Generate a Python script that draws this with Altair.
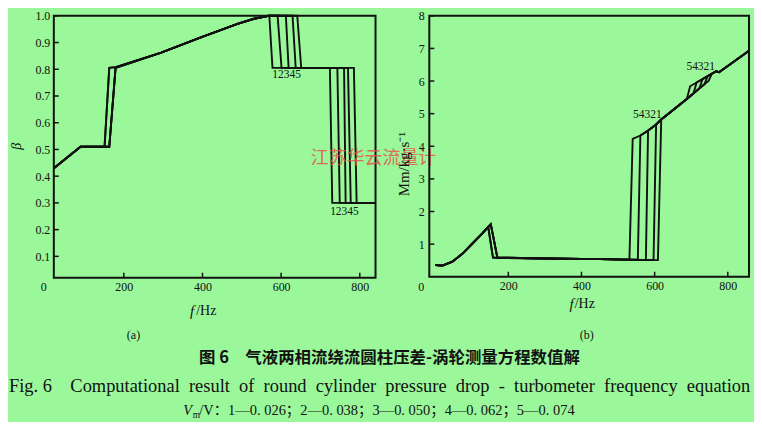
import altair as alt
import pandas as pd

# ---------------- colours / fonts ----------------
BG = "#9AF89A"
INK = "#111111"
SERIF = "Liberation Serif"
CJK = "Noto Sans CJK SC"

# ---------------- data ----------------
curve_ids = [1, 2, 3, 4, 5]

# panel (a): beta vs f (Hz), one list per curve
a_f = {
    1: [22, 90, 151, 163, 179, 295, 396, 489, 531, 570, 578, 724, 730, 840],
    2: [22, 90, 151, 163, 179, 295, 396, 489, 531, 568, 591, 601, 743, 749, 840],
    3: [22, 90, 163, 179, 295, 396, 489, 531, 568, 612, 619, 760, 764, 840],
    4: [22, 90, 163, 179, 295, 396, 489, 531, 568, 629, 637, 770, 777, 840],
    5: [22, 90, 163, 179, 295, 396, 489, 531, 568, 641, 651, 785, 792, 840],
}
a_beta = {
    1: [0.43, 0.51, 0.51, 0.805, 0.808, 0.862, 0.919, 0.97, 0.989, 1.0, 0.805, 0.805, 0.30, 0.30],
    2: [0.43, 0.51, 0.51, 0.805, 0.808, 0.862, 0.919, 0.97, 0.989, 1.0, 1.0, 0.805, 0.805, 0.30, 0.30],
    3: [0.43, 0.51, 0.51, 0.805, 0.862, 0.919, 0.97, 0.989, 1.0, 1.0, 0.805, 0.805, 0.30, 0.30],
    4: [0.43, 0.51, 0.51, 0.805, 0.862, 0.919, 0.97, 0.989, 1.0, 1.0, 0.805, 0.805, 0.30, 0.30],
    5: [0.43, 0.51, 0.51, 0.805, 0.862, 0.919, 0.97, 0.989, 1.0, 1.0, 0.805, 0.805, 0.30, 0.30],
}

# panel (b): M vs f (Hz), one list per curve
b_f = {
    1: [0, 20, 47, 75, 102, 129, 145, 152, 170, 300, 450, 609, 618, 688, 706, 722, 736, 748, 756, 768, 776, 858],
    2: [0, 20, 47, 75, 102, 129, 145, 152, 170, 300, 450, 597, 604, 618, 688, 706, 722, 736, 745, 768, 776, 858],
    3: [0, 20, 47, 75, 102, 129, 145, 152, 170, 300, 450, 576, 582, 604, 618, 688, 706, 722, 731, 768, 776, 858],
    4: [0, 20, 47, 75, 102, 129, 145, 158, 170, 300, 450, 554, 561, 582, 604, 618, 688, 706, 715, 768, 776, 858],
    5: [0, 20, 47, 75, 102, 129, 145, 158, 170, 300, 450, 531, 540, 561, 582, 604, 618, 688, 697, 768, 776, 858],
}
b_m = {
    1: [0.36, 0.34, 0.46, 0.71, 1.02, 1.33, 1.53, 1.61, 0.59, 0.56, 0.54, 0.51, 4.82, 5.45, 5.62, 5.77, 5.90, 6.01, 6.22, 6.30, 6.27, 6.93],
    2: [0.36, 0.34, 0.46, 0.71, 1.02, 1.33, 1.53, 1.61, 0.59, 0.56, 0.54, 0.51, 4.67, 4.82, 5.45, 5.62, 5.77, 5.90, 6.15, 6.30, 6.27, 6.93],
    3: [0.36, 0.34, 0.46, 0.71, 1.02, 1.33, 1.53, 1.61, 0.59, 0.56, 0.54, 0.51, 4.48, 4.67, 4.82, 5.45, 5.62, 5.77, 6.06, 6.30, 6.27, 6.93],
    4: [0.36, 0.34, 0.46, 0.71, 1.02, 1.33, 1.53, 0.59, 0.58, 0.56, 0.54, 0.52, 4.33, 4.48, 4.67, 4.82, 5.45, 5.62, 5.96, 6.30, 6.27, 6.93],
    5: [0.36, 0.34, 0.46, 0.71, 1.02, 1.33, 1.53, 0.59, 0.58, 0.56, 0.54, 0.52, 4.23, 4.33, 4.48, 4.67, 4.82, 5.45, 5.84, 6.30, 6.27, 6.93],
}

# curve-number annotations
a_label_f = [614, 761]
a_label_beta = [0.778, 0.266]
a_label_text = ["12345", "12345"]
b_label_f = [580, 726]
b_label_m = [4.95, 6.42]
b_label_text = ["54321", "54321"]

# ticks
x_ticks = [200, 400, 600, 800]
a_y_ticks = [0.1, 0.2, 0.3, 0.4, 0.5, 0.6, 0.7, 0.8, 0.9, 1.0]
b_y_ticks = [1, 2, 3, 4, 5, 6, 7, 8]

# texts
a_ytitle = ["β"]
b_ytitle = ["Mm/kg·s⁻¹"]
x_title_f = ["f"]
x_title_unit = ["/Hz"]
zero_label = ["0"]
panel_a_tag = ["(a)"]
panel_b_tag = ["(b)"]
watermark = ["江苏华云流量计"]
cap_cn = ["图 6　气液两相流绕流圆柱压差-涡轮测量方程数值解"]
NB = "\u00a0"
cap_en = ["Fig." + NB + "6" + NB * 4 + (NB * 2).join(
    "Computational result of round cylinder pressure drop - turbometer frequency equation".split(" "))]
cap_v = ["V"]
cap_m = ["m"]
cap_rest = ["/V：1—0. 026；2—0. 038；3—0. 050；4—0. 062；5—0. 074"]

# ---------------- layout sizes ----------------
W_A, H_A = 323, 263
W_B, H_B = 321, 262


def curves_df(fdict, vdict, key):
    rows = []
    for c in curve_ids:
        for i, (f, v) in enumerate(zip(fdict[c], vdict[c])):
            rows.append({"curve": c, "i": i, "f": f, key: v})
    return pd.DataFrame(rows)


def txt(strings, x, y, size=12, font=SERIF, align="center", style="normal",
        weight="normal", angle=0, color=INK, opacity=1.0, baseline="middle"):
    return alt.Chart(pd.DataFrame({"t": strings})).mark_text(
        font=font, fontSize=size, align=align, baseline=baseline,
        fontStyle=style, fontWeight=weight, angle=angle, color=color,
        opacity=opacity,
    ).encode(text="t:N", x=alt.value(x), y=alt.value(y))


axis_common = dict(domain=False, ticks=False, grid=False, labelFont=SERIF,
                   labelFontSize=12, labelColor=INK, title=None,
                   labelFlush=False)

# ---------------- panel (a) ----------------
xa = alt.X("f:Q", scale=alt.Scale(domain=[22, 840], nice=False, zero=False),
           axis=alt.Axis(values=x_ticks, labelPadding=4, **axis_common))
ya = alt.Y("beta:Q", scale=alt.Scale(domain=[0.02, 1.0], nice=False, zero=False),
           axis=alt.Axis(values=a_y_ticks, format=".1f", labelPadding=4, **axis_common))

da = curves_df(a_f, a_beta, "beta")
lines_a = alt.Chart(da).mark_line(color=INK, strokeWidth=1.9, clip=False).encode(
    x=xa, y=ya, detail="curve:N", order="i:Q")
xt_a = alt.Chart(pd.DataFrame({"f": x_ticks})).mark_rule(color=INK, strokeWidth=1.5).encode(
    x=xa, y=alt.value(H_A), y2=alt.value(H_A - 5))
yt_a = alt.Chart(pd.DataFrame({"beta": a_y_ticks})).mark_rule(color=INK, strokeWidth=1.5).encode(
    y=ya, x=alt.value(0), x2=alt.value(5))
lab_a = alt.Chart(pd.DataFrame({"f": a_label_f, "beta": a_label_beta, "t": a_label_text})).mark_text(
    font=SERIF, fontSize=11.5, color=INK).encode(x=xa, y=ya, text="t:N")

panel_a = alt.layer(
    lines_a, xt_a, yt_a, lab_a,
    txt(zero_label, -10, H_A + 9, size=12),
    txt(a_ytitle, -37, 131, size=14, style="italic", angle=270),
    txt(x_title_f, 141, 296, size=15, style="italic", align="right"),
    txt(x_title_unit, 143, 296, size=14, align="left"),
    txt(panel_a_tag, 80, 320, size=12),
    txt(watermark, 321, 144, size=18, font=CJK, color="#E5554C", opacity=0.85),
    txt(cap_cn, 337, 344, size=16.5, font=CJK, weight="bold"),
    txt(cap_en, -45, 372, size=18.5, align="left", font=SERIF + ", " + CJK),
    txt(cap_v, 130, 397, size=14.5, style="italic", align="left"),
    txt(cap_m, 139.5, 401, size=9.5, align="left"),
    txt(cap_rest, 146, 397, size=14.5, align="left", font=SERIF + ", " + CJK),
).properties(width=W_A, height=H_A, view=alt.ViewBackground(stroke=INK, strokeWidth=2))

# ---------------- panel (b) ----------------
xb = alt.X("f:Q", scale=alt.Scale(domain=[-16, 858], nice=False, zero=False),
           axis=alt.Axis(values=x_ticks, labelPadding=4, **axis_common))
yb = alt.Y("m:Q", scale=alt.Scale(domain=[0, 8], nice=False, zero=False),
           axis=alt.Axis(values=b_y_ticks, format="d", labelPadding=5, **axis_common))

db = curves_df(b_f, b_m, "m")
lines_b = alt.Chart(db).mark_line(color=INK, strokeWidth=1.9, clip=False).encode(
    x=xb, y=yb, detail="curve:N", order="i:Q")
xt_b = alt.Chart(pd.DataFrame({"f": x_ticks})).mark_rule(color=INK, strokeWidth=1.5).encode(
    x=xb, y=alt.value(H_B), y2=alt.value(H_B - 5))
yt_b = alt.Chart(pd.DataFrame({"m": b_y_ticks})).mark_rule(color=INK, strokeWidth=1.5).encode(
    y=yb, x=alt.value(0), x2=alt.value(5))
lab_b = alt.Chart(pd.DataFrame({"f": b_label_f, "m": b_label_m, "t": b_label_text})).mark_text(
    font=SERIF, fontSize=11.5, color=INK).encode(x=xb, y=yb, text="t:N")

panel_b = alt.layer(
    lines_b, xt_b, yt_b, lab_b,
    txt(zero_label, -8, H_B + 10, size=12),
    txt(b_ytitle, -25, 149, size=15, angle=270),
    txt(x_title_f, 145, 289, size=15, style="italic", align="right"),
    txt(x_title_unit, 146, 289, size=14, align="left"),
    txt(panel_b_tag, 158, 320, size=12),
).properties(width=W_B, height=H_B, view=alt.ViewBackground(stroke=INK, strokeWidth=2))

chart = alt.hconcat(panel_a, panel_b, spacing=54, bounds="flush").properties(
    padding={"left": 0, "top": 0, "right": 0, "bottom": 0},
    background=BG,
    usermeta={"embedOptions": {"defaultStyle": "body{background:%s;}" % BG}},
)

chart.save("out.html", embed_options={"renderer": "svg", "actions": False})
